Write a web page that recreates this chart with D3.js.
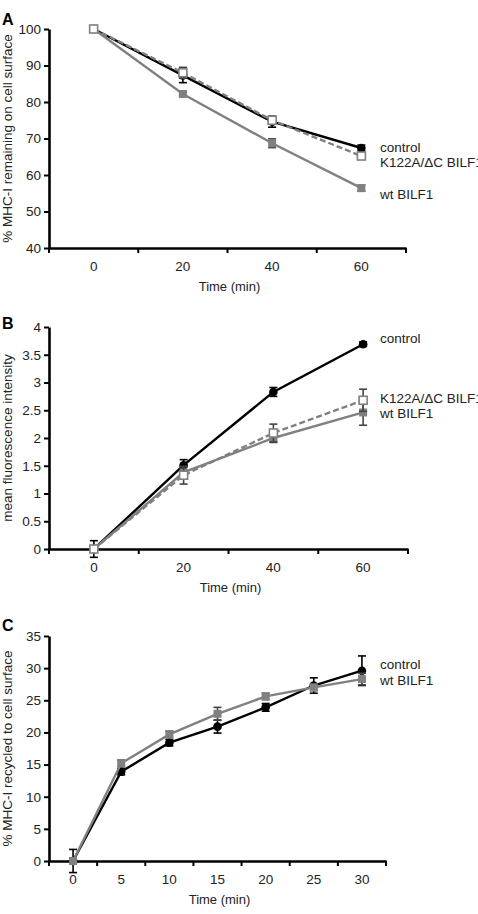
<!DOCTYPE html>
<html>
<head>
<meta charset="utf-8">
<script src="https://cdn.jsdelivr.net/npm/d3@7"></script>
<style>
  body { margin: 0; background: #fff; }
  svg { display: block; font-family: "Liberation Sans", Arial, sans-serif; }
  .tick text { fill: #222; }
</style>
</head>
<body>
<svg id="chart" width="478" height="914"></svg>
<script>
// Panel A - internalization
const timesA = [0, 20, 40, 60];
const controlA = [100, 87.3, 74.6, 67.4];
const controlAErr = [0, 2, 1.5, 0.8];
const k122A = [100, 88, 75, 65.2];
const k122AErr = [0, 1.5, 1, 0.6];
const wtA = [100, 82.2, 68.7, 56.4];
const wtAErr = [0, 0.5, 1.2, 0.8];
const yTicksA = [40, 50, 60, 70, 80, 90, 100];

// Panel B - fluorescence
const timesB = [0, 20, 40, 60];
const controlB = [0, 1.51, 2.83, 3.69];
const controlBErr = [0.15, 0.1, 0.08, 0.04];
const k122B = [0, 1.33, 2.09, 2.68];
const k122BErr = [0.05, 0.16, 0.16, 0.2];
const wtB = [0, 1.38, 2.0, 2.46];
const wtBErr = [0.05, 0.1, 0.08, 0.23];
const yTicksB = [0, 0.5, 1, 1.5, 2, 2.5, 3, 3.5, 4];

// Panel C - recycling
const timesC = [0, 5, 10, 15, 20, 25, 30];
const controlC = [0, 13.9, 18.4, 20.9, 23.9, 27.3, 29.6];
const controlCErr = [1.8, 0.5, 0.5, 1.0, 0.6, 1.2, 2.3];
const wtC = [0, 15.2, 19.7, 22.9, 25.6, 27.0, 28.3];
const wtCErr = [0.3, 0.5, 0.5, 1.0, 0.5, 0.5, 0.9];
const yTicksC = [0, 5, 10, 15, 20, 25, 30, 35];

const GRAY = "#808080";

const svg = d3.select("#chart");

const styles = {
  control: { stroke: "#000", dash: null, marker: "circle", fill: "#000" },
  k122: { stroke: GRAY, dash: "6,3", marker: "square", fill: "#fff" },
  wt: { stroke: GRAY, dash: null, marker: "square", fill: GRAY }
};

function drawPanel(p) {
  const g = svg.append("g");

  const x = d3.scaleBand().domain(p.times).range([49, p.xRight]).padding(0);
  const y = d3.scaleLinear().domain([p.yTicks[0], p.yTicks[p.yTicks.length - 1]]).range([p.yBottom, p.yTop]);

  // y axis
  const yAxis = g.append("g")
    .attr("transform", "translate(49,0)")
    .call(d3.axisLeft(y).tickValues(p.yTicks).tickFormat(d => String(d))
      .tickSize(5).tickSizeOuter(0).tickPadding(3));
  yAxis.select(".domain").attr("stroke-width", 2.6);
  yAxis.selectAll(".tick line").attr("stroke-width", 2);
  yAxis.selectAll(".tick text").style("font-size", "13.5px");

  // x axis: labels centred on categories, ticks between them
  const xAxis = g.append("g")
    .attr("transform", `translate(0,${p.yBottom})`)
    .call(d3.axisBottom(x).tickSize(0).tickPadding(13));
  xAxis.select(".domain").attr("stroke-width", 2.6);
  xAxis.selectAll(".tick text").style("font-size", "13.5px");
  const edges = d3.range(p.times.length + 1).map(i => x.range()[0] + i * x.step());
  g.selectAll(".xedge")
    .data(edges)
    .enter().append("line")
    .attr("x1", d => d).attr("x2", d => d)
    .attr("y1", p.yBottom).attr("y2", p.yBottom + 5)
    .attr("stroke", "#000").attr("stroke-width", 2);

  // panel letter
  g.append("text")
    .attr("x", 2).attr("y", p.letterY)
    .style("font-size", "16px").style("font-weight", "bold")
    .text(p.letter);

  // axis titles
  g.append("text")
    .attr("transform", `translate(12,${(p.yTop + p.yBottom) / 2}) rotate(-90)`)
    .attr("text-anchor", "middle")
    .style("font-size", "13.5px").attr("fill", "#222")
    .text(p.yTitle);
  g.append("text")
    .attr("x", (x.range()[0] + x.range()[1]) / 2 + 2)
    .attr("y", p.yBottom + 43)
    .attr("text-anchor", "middle")
    .style("font-size", "13px").attr("fill", "#222")
    .text("Time (min)");

  const cx = t => x(t) + x.bandwidth() / 2;

  p.series.forEach(s => {
    const st = styles[s.key];
    const pts = p.times.map((t, i) => ({ t: t, v: s.values[i], e: s.errors[i] }));

    // error bars
    const eb = g.append("g").attr("stroke", st.stroke === GRAY ? "#444" : "#000").attr("stroke-width", 1.6);
    pts.forEach(d => {
      if (!d.e) return;
      eb.append("line").attr("x1", cx(d.t)).attr("x2", cx(d.t))
        .attr("y1", y(d.v - d.e)).attr("y2", y(d.v + d.e));
      [d.v - d.e, d.v + d.e].forEach(v => {
        eb.append("line").attr("x1", cx(d.t) - 4).attr("x2", cx(d.t) + 4)
          .attr("y1", y(v)).attr("y2", y(v));
      });
    });

    g.append("path")
      .datum(pts)
      .attr("fill", "none")
      .attr("stroke", st.stroke)
      .attr("stroke-width", 2.4)
      .attr("stroke-dasharray", st.dash)
      .attr("d", d3.line().x(d => cx(d.t)).y(d => y(d.v)));

    if (st.marker === "circle") {
      g.selectAll(null).data(pts).enter().append("circle")
        .attr("cx", d => cx(d.t)).attr("cy", d => y(d.v)).attr("r", 4.3)
        .attr("fill", st.fill);
    } else {
      g.selectAll(null).data(pts).enter().append("rect")
        .attr("x", d => cx(d.t) - 4).attr("y", d => y(d.v) - 4)
        .attr("width", 8).attr("height", 8)
        .attr("fill", st.fill)
        .attr("stroke", st.fill === "#fff" ? GRAY : "none")
        .attr("stroke-width", 1.6);
    }
  });

  // labels beside the last points
  p.labels.forEach(l => {
    g.append("text")
      .attr("x", 380).attr("y", y(l.at)).attr("dy", "0.35em")
      .style("font-size", "13.5px").attr("fill", "#222")
      .text(l.text);
  });
}

drawPanel({
  letter: "A", letterY: 25,
  times: timesA, yTicks: yTicksA, yTop: 29, yBottom: 248, xRight: 406,
  yTitle: "% MHC-I remaining on cell surface",
  series: [
    { key: "control", values: controlA, errors: controlAErr },
    { key: "wt", values: wtA, errors: wtAErr },
    { key: "k122", values: k122A, errors: k122AErr }
  ],
  labels: [
    { text: "control", at: 67.6 },
    { text: "K122A/\u0394C BILF1", at: 63.5 },
    { text: "wt BILF1", at: 54.8 }
  ]
});

drawPanel({
  letter: "B", letterY: 329,
  times: timesB, yTicks: yTicksB, yTop: 327, yBottom: 549, xRight: 408,
  yTitle: "mean fluorescence intensity",
  series: [
    { key: "control", values: controlB, errors: controlBErr },
    { key: "wt", values: wtB, errors: wtBErr },
    { key: "k122", values: k122B, errors: k122BErr }
  ],
  labels: [
    { text: "control", at: 3.79 },
    { text: "K122A/\u0394C BILF1", at: 2.71 },
    { text: "wt BILF1", at: 2.44 }
  ]
});

drawPanel({
  letter: "C", letterY: 631,
  times: timesC, yTicks: yTicksC, yTop: 636, yBottom: 861, xRight: 386,
  yTitle: "% MHC-I recycled to cell surface",
  series: [
    { key: "control", values: controlC, errors: controlCErr },
    { key: "wt", values: wtC, errors: wtCErr }
  ],
  labels: [
    { text: "control", at: 30.6 },
    { text: "wt BILF1", at: 28.1 }
  ]
});
</script>
</body>
</html>
